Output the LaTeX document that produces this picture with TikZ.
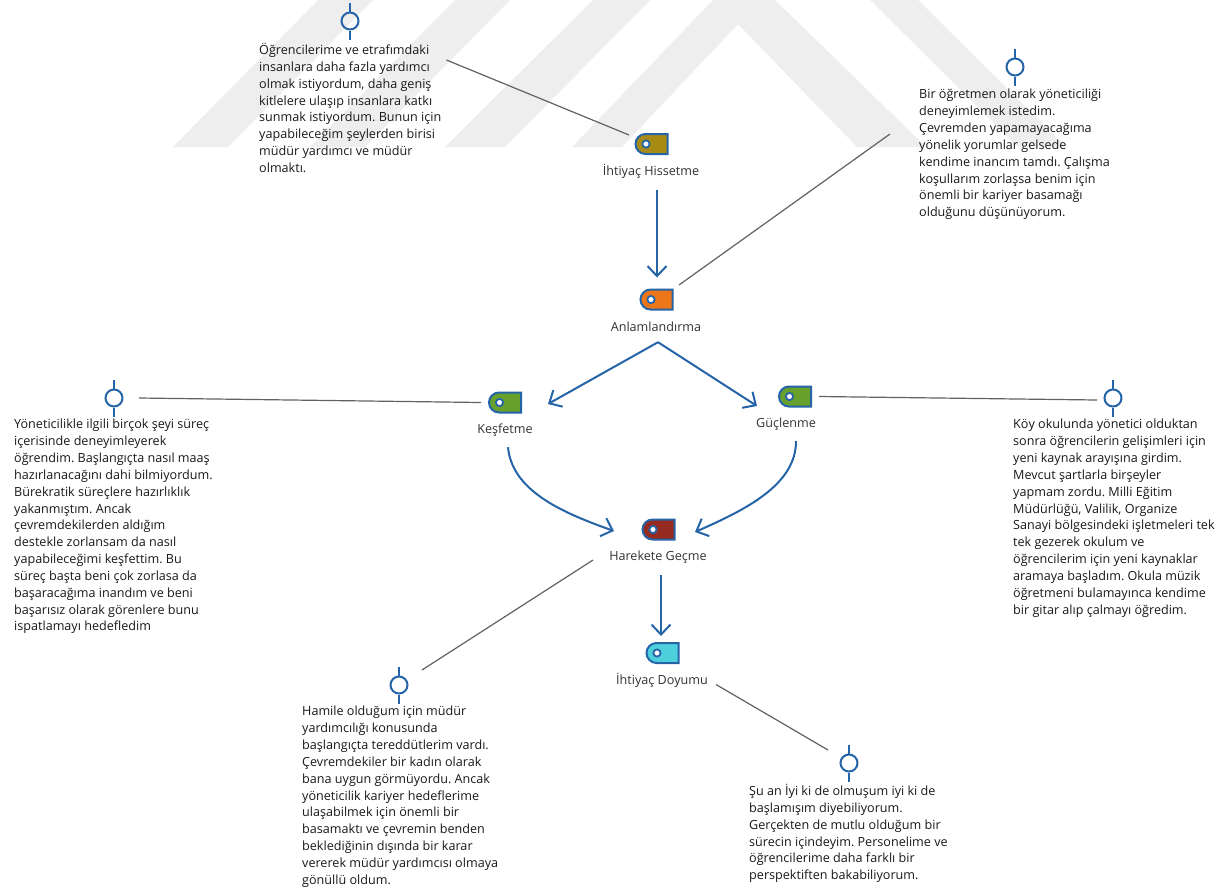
\documentclass[tikz,border=0pt]{standalone}
\usepackage{fontspec}
\setmainfont{Open Sans}
\usetikzlibrary{shapes.misc,arrows.meta}
\definecolor{flowblue}{RGB}{38,100,168}
\definecolor{wm}{RGB}{238,238,238}
\tikzset{
  x=1pt,y=-1pt,
  tagbox/.style={rounded rectangle,rounded rectangle right arc=none,rounded rectangle arc length=180,draw=flowblue,line width=2pt,minimum width=32pt,minimum height=20pt,inner sep=0pt,anchor=center,
    path picture={\draw[flowblue,fill=white,line width=1.8pt] ([xshift=10.5pt]path picture bounding box.west) circle (3.6pt);}},
  lab/.style={font=\fontsize{12.6}{15}\selectfont,text=black!80,inner sep=0pt,anchor=center,text height=9pt,text depth=3pt},
  para/.style={font=\fontsize{12.6}{16.85}\selectfont\frenchspacing,text=black!90,inner sep=0pt,anchor=north west,align=left},
  pinring/.style={circle,draw=flowblue,line width=2pt,minimum size=17pt,inner sep=0pt},
  pinline/.style={draw=flowblue,line width=2pt},
  flow/.style={draw=flowblue,line width=2pt,-{Straight Barb[length=10pt,width=19pt,line width=2pt]}},
  link/.style={draw=black!62,line width=1.2pt},
}
\begin{document}
\begin{tikzpicture}
\useasboundingbox (0,0) rectangle (1223,889);
\fill[white] (0,0) rectangle (1223,889);
% watermark
\fill[wm] (318,0) -- (373,0) -- (228,147) -- (173,147) -- cycle;
\fill[wm] (455,0) -- (510,0) -- (365,147) -- (310,147) -- cycle;
\fill[wm] (593,0) -- (650,0) -- (505,147) -- (445,147) -- cycle;
\fill[wm] (713,0) -- (775,0) -- (926,147) -- (857,147) -- (738,24) -- (622,147) -- (572,147) -- cycle;
\fill[wm] (870,0) -- (918,0) -- (1066,147) -- (1018,147) -- cycle;
% tags
\node[tagbox,fill={rgb,255:red,166;green,138;blue,20}] (t1) at (651.5,144) {};
\node[tagbox,fill={rgb,255:red,236;green,118;blue,24}] (t2) at (656.5,299.5) {};
\node[tagbox,fill={rgb,255:red,104;green,160;blue,44}] (t3) at (505,402.5) {};
\node[tagbox,fill={rgb,255:red,104;green,160;blue,44}] (t4) at (795,396.5) {};
\node[tagbox,fill={rgb,255:red,150;green,42;blue,32}] (t5) at (658.5,529.5) {};
\node[tagbox,fill={rgb,255:red,78;green,208;blue,220}] (t6) at (662.5,653) {};
% labels
\node[lab] (l1) at (651,172) {İhtiyaç Hissetme};
\node[lab] (l2) at (656,328.5) {Anlamlandırma};
\node[lab] (l3) at (505,430.5) {Keşfetme};
\node[lab] (l4) at (786,424.5) {Güçlenme};
\node[lab] (l5) at (658,557.5) {Harekete Geçme};
\node[lab] (l6) at (662,681) {İhtiyaç Doyumu};
% pins
\foreach \n/\px/\py in {p1/350/21,p2/1015/67,p3/114/398,p4/1113/398,p5/399/685,p6/849/763}{
  \node[pinring] (\n) at (\px,\py) {};
  \draw[pinline] (\n.north) -- ++(0,-9) (\n.south) -- ++(0,9);
}
% paragraphs
\node[para] (b1) at (259,43) {Öğrencilerime ve etrafımdaki\\insanlara daha fazla yardımcı\\olmak istiyordum, daha geniş\\kitlelere ulaşıp insanlara katkı\\sunmak istiyordum. Bunun için\\yapabileceğim şeylerden birisi\\müdür yardımcı ve müdür\\olmaktı.};
\node[para] (b2) at (919,89) {Bir öğretmen olarak yöneticiliği\\deneyimlemek istedim.\\Çevremden yapamayacağıma\\yönelik yorumlar gelsede\\kendime inancım tamdı. Çalışma\\koşullarım zorlaşsa benim için\\önemli bir kariyer basamağı\\olduğunu düşünüyorum.};
\node[para] (b3) at (14,419) {Yöneticilikle ilgili birçok şeyi süreç\\içerisinde deneyimleyerek\\öğrendim. Başlangıçta nasıl maaş\\hazırlanacağını dahi bilmiyordum.\\Bürekratik süreçlere hazırlıklık\\yakanmıştım. Ancak\\çevremdekilerden aldığım\\destekle zorlansam da nasıl\\yapabileceğimi keşfettim. Bu\\süreç başta beni çok zorlasa da\\başaracağıma inandım ve beni\\başarısız olarak görenlere bunu\\ispatlamayı hedefledim};
\node[para] (b4) at (1013,419) {Köy okulunda yönetici olduktan\\sonra öğrencilerin gelişimleri için\\yeni kaynak arayışına girdim.\\Mevcut şartlarla birşeyler\\yapmam zordu. Milli Eğitim\\Müdürlüğü, Valilik, Organize\\Sanayi bölgesindeki işletmeleri tek\\tek gezerek okulum ve\\öğrencilerim için yeni kaynaklar\\aramaya başladım. Okula müzik\\öğretmeni bulamayınca kendime\\bir gitar alıp çalmayı öğredim.};
\node[para] (b5) at (302,706) {Hamile olduğum için müdür\\yardımcılığı konusunda\\başlangıçta tereddütlerim vardı.\\Çevremdekiler bir kadın olarak\\bana uygun görmüyordu. Ancak\\yöneticilik kariyer hedeflerime\\ulaşabilmek için önemli bir\\basamaktı ve çevremin benden\\beklediğinin dışında bir karar\\vererek müdür yardımcısı olmaya\\gönüllü oldum.};
\node[para] (b6) at (749,784) {Şu an İyi ki de olmuşum iyi ki de\\başlamışım diyebiliyorum.\\Gerçekten de mutlu olduğum bir\\sürecin içindeyim. Personelime ve\\öğrencilerime daha farklı bir\\perspektiften bakabiliyorum.};
% flow arrows (yshift is measured upward)
\draw[flow] ([xshift=6pt,yshift=-12pt]l1.south) -- ([xshift=0.5pt,yshift=11pt]t2.north);
\draw[flow] ([xshift=2pt,yshift=-7.5pt]l2.south) -- ([xshift=26pt,yshift=-1.5pt]t3.east);
\draw[flow] ([xshift=2pt,yshift=-7.5pt]l2.south) -- ([xshift=-21pt,yshift=-9.5pt]t4.west);
\draw[flow] ([xshift=3pt,yshift=-10.5pt]l3.south) .. controls (512,490) and (560,512) .. ([xshift=-27.5pt,yshift=-1.5pt]t5.west);
\draw[flow] ([xshift=10pt,yshift=-10.5pt]l4.south) .. controls (796,485) and (745,510) .. ([xshift=19.5pt,yshift=-2.5pt]t5.east);
\draw[flow] ([xshift=3pt,yshift=-11.5pt]l5.south) -- ([xshift=-1.5pt,yshift=6pt]t6.north);
% links
\draw[link] ([xshift=5pt,yshift=-17pt]b1.north east) -- ([xshift=-5.5pt,yshift=9pt]t1.west);
\draw[link] ([xshift=-29pt,yshift=-45pt]b2.north west) -- ([xshift=5.5pt,yshift=3.5pt]t2.north east);
\draw[link] ([xshift=15.5pt]p3.east) -- ([xshift=-7pt]t3.west);
\draw[link] ([xshift=7pt]t4.east) -- ([xshift=-6.5pt,yshift=-2pt]p4.west);
\draw[link] ([xshift=-16pt,yshift=-2.5pt]l5.west) -- ([xshift=23pt,yshift=15pt]p5.center);
\draw[link] ([xshift=8pt,yshift=-3.5pt]l6.east) -- ([xshift=-21pt,yshift=13pt]p6.center);
\end{tikzpicture}
\end{document}
